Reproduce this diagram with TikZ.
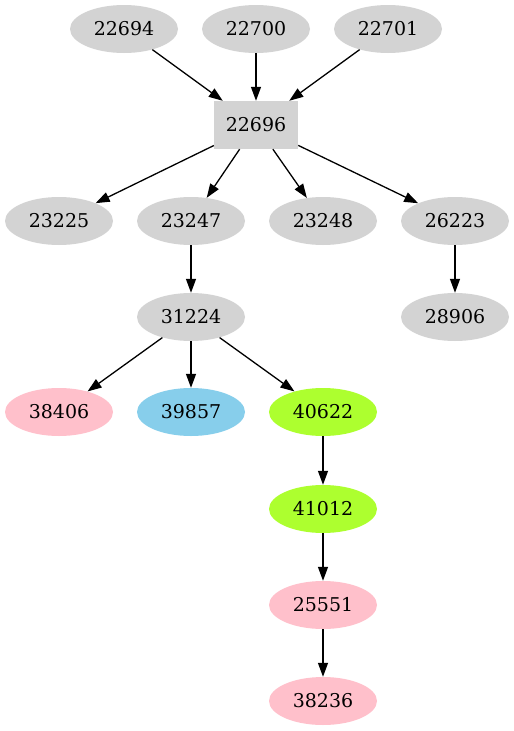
\documentclass[tikz,border=0pt]{standalone}
\usepackage{fontspec}
\setmainfont{DejaVu Serif}
\usetikzlibrary{shapes.geometric,arrows.meta}
\definecolor{lgray}{HTML}{D3D3D3}
\definecolor{gpink}{HTML}{FFC0CB}
\definecolor{gsky}{HTML}{87CEEB}
\definecolor{ggreen}{HTML}{ADFF2F}
\tikzset{
  nd/.style={ellipse, fill=lgray, minimum width=108pt, minimum height=48pt, inner sep=0pt, font=\fontsize{19}{22}\selectfont},
  bx/.style={rectangle, fill=lgray, minimum width=84pt, minimum height=48pt, inner sep=0pt, font=\fontsize{19}{22}\selectfont},
  pk/.style={nd, fill=gpink},
  sk/.style={nd, fill=gsky},
  gr/.style={nd, fill=ggreen},
  edge/.style={-{Triangle[length=14pt,width=10pt]}, line width=1.3pt}
}
\begin{document}
\begin{tikzpicture}[x=1pt,y=-1pt]
\useasboundingbox (0,0) rectangle (514,731);
\node[nd] (a22694) at (124,29) {22694};
\node[nd] (a22700) at (256,29) {22700};
\node[nd] (a22701) at (388,29) {22701};
\node[bx] (a22696) at (256,125) {22696};
\node[nd] (a23225) at (59,221) {23225};
\node[nd] (a23247) at (191,221) {23247};
\node[nd] (a23248) at (323,221) {23248};
\node[nd] (a26223) at (455,221) {26223};
\node[nd] (a31224) at (191,317) {31224};
\node[nd] (a28906) at (455,317) {28906};
\node[pk] (a38406) at (59,412) {38406};
\node[sk] (a39857) at (191,412) {39857};
\node[gr] (a40622) at (323,412) {40622};
\node[gr] (a41012) at (323,509) {41012};
\node[pk] (a25551) at (323,605) {25551};
\node[pk] (a38236) at (323,701) {38236};
\draw[edge] (a22694) -- (a22696);
\draw[edge] (a22700) -- (a22696);
\draw[edge] (a22701) -- (a22696);
\draw[edge] (a22696) -- (a23225);
\draw[edge] (a22696) -- (a23247);
\draw[edge] (a22696) -- (a23248);
\draw[edge] (a22696) -- (a26223);
\draw[edge] (a23247) -- (a31224);
\draw[edge] (a26223) -- (a28906);
\draw[edge] (a31224) -- (a38406);
\draw[edge] (a31224) -- (a39857);
\draw[edge] (a31224) -- (a40622);
\draw[edge] (a40622) -- (a41012);
\draw[edge] (a41012) -- (a25551);
\draw[edge] (a25551) -- (a38236);
\end{tikzpicture}
\end{document}
